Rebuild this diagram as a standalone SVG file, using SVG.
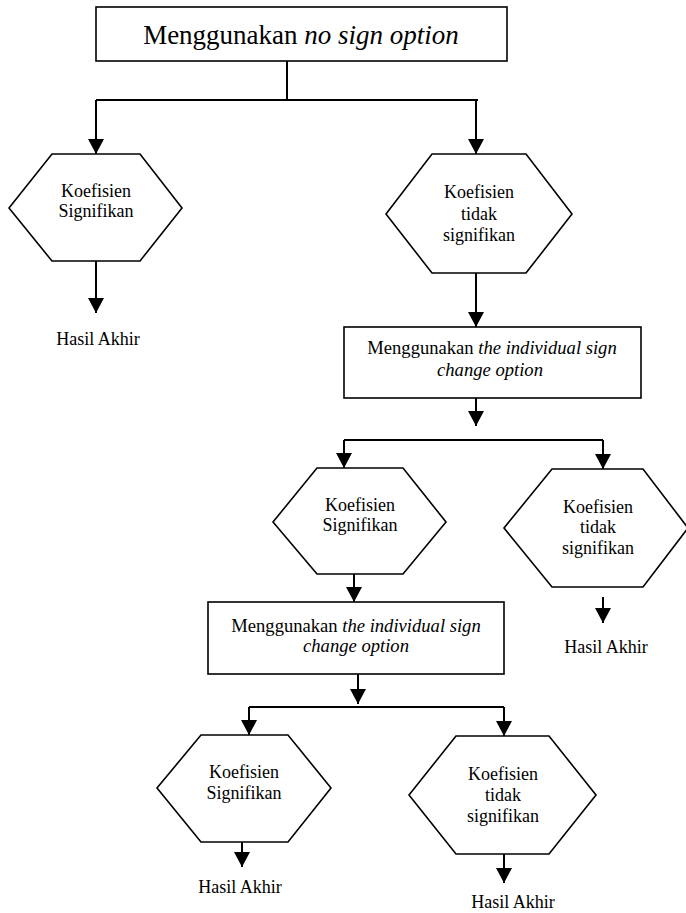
<svg xmlns="http://www.w3.org/2000/svg" width="686" height="913" viewBox="0 0 686 913">
<style>
.shape{fill:#fff;stroke:#000;stroke-width:1.6}
.conn{fill:none;stroke:#000;stroke-width:2}
.t{font-family:'Liberation Serif','Times New Roman',Times,'DejaVu Serif',serif;fill:#000;text-anchor:middle;font-size:18px}
.big{font-size:27px}
.mid{font-size:18.6px}
.it{font-style:italic}
</style>
<defs>
<marker id="arr" markerUnits="userSpaceOnUse" markerWidth="16" markerHeight="16" refX="15" refY="8" orient="auto">
<path d="M0,0 L15,8 L0,16 z" fill="#000"/>
</marker>
</defs>
<g id="connectors">
<path class="conn" d="M287,61 V100 M96,100 H478"/>
<path class="conn" d="M96,100 V154" marker-end="url(#arr)"/>
<path class="conn" d="M476,100 V154" marker-end="url(#arr)"/>
<path class="conn" d="M96,261 V313" marker-end="url(#arr)"/>
<path class="conn" d="M476,273 V327" marker-end="url(#arr)"/>
<path class="conn" d="M476,398 V426" marker-end="url(#arr)"/>
<path class="conn" d="M344,440 H603"/>
<path class="conn" d="M344,440 V468" marker-end="url(#arr)"/>
<path class="conn" d="M603,440 V469" marker-end="url(#arr)"/>
<path class="conn" d="M603,597 V623" marker-end="url(#arr)"/>
<path class="conn" d="M354,574 V602" marker-end="url(#arr)"/>
<path class="conn" d="M358,674 V704" marker-end="url(#arr)"/>
<path class="conn" d="M249,707 H504"/>
<path class="conn" d="M249,707 V735" marker-end="url(#arr)"/>
<path class="conn" d="M504,707 V736" marker-end="url(#arr)"/>
<path class="conn" d="M242,842 V867" marker-end="url(#arr)"/>
<path class="conn" d="M504,854 V883" marker-end="url(#arr)"/>
</g>
<g id="box1">
<rect class="shape" x="96" y="7" width="411" height="54"/>
<text class="t big" x="301" y="44">Menggunakan <tspan class="it">no sign option</tspan></text>
</g>
<g id="hex1">
<polygon class="shape" points="9,208 52,154 140,154 182,208 140,261 52,261"/>
<text class="t" x="96" y="197">Koefisien</text>
<text class="t" x="96" y="217">Signifikan</text>
</g>
<g id="result1">
<text class="t" x="98" y="345">Hasil Akhir</text>
</g>
<g id="hex2">
<polygon class="shape" points="386,214 432,154 526,154 572,214 526,273 432,273"/>
<text class="t" x="479" y="198">Koefisien</text>
<text class="t" x="479" y="220">tidak</text>
<text class="t" x="479" y="241">signifikan</text>
</g>
<g id="box2">
<rect class="shape" x="344" y="327" width="297" height="71"/>
<text class="t mid" x="492" y="354">Menggunakan <tspan class="it">the individual sign</tspan></text>
<text class="t mid it" x="490" y="376">change option</text>
</g>
<g id="hex3">
<polygon class="shape" points="273,522 317,468 403,468 446,522 403,574 317,574"/>
<text class="t" x="360" y="511">Koefisien</text>
<text class="t" x="360" y="531">Signifikan</text>
</g>
<g id="hex4">
<polygon class="shape" points="504,528 552,469 643,469 688,528 643,587 552,587"/>
<text class="t" x="598" y="513">Koefisien</text>
<text class="t" x="598" y="533">tidak</text>
<text class="t" x="598" y="554">signifikan</text>
</g>
<g id="result2">
<text class="t" x="606" y="653">Hasil Akhir</text>
</g>
<g id="box3">
<rect class="shape" x="208" y="602" width="296" height="72"/>
<text class="t mid" x="356" y="632">Menggunakan <tspan class="it">the individual sign</tspan></text>
<text class="t mid it" x="356" y="652">change option</text>
</g>
<g id="hex5">
<polygon class="shape" points="157,788 201,735 288,735 331,788 288,842 201,842"/>
<text class="t" x="244" y="778">Koefisien</text>
<text class="t" x="244" y="799">Signifikan</text>
</g>
<g id="result3">
<text class="t" x="240" y="893">Hasil Akhir</text>
</g>
<g id="hex6">
<polygon class="shape" points="409,795 456,736 549,736 596,795 549,854 456,854"/>
<text class="t" x="503" y="780">Koefisien</text>
<text class="t" x="503" y="801">tidak</text>
<text class="t" x="503" y="822">signifikan</text>
</g>
<g id="result4">
<text class="t" x="513" y="908">Hasil Akhir</text>
</g>
</svg>
